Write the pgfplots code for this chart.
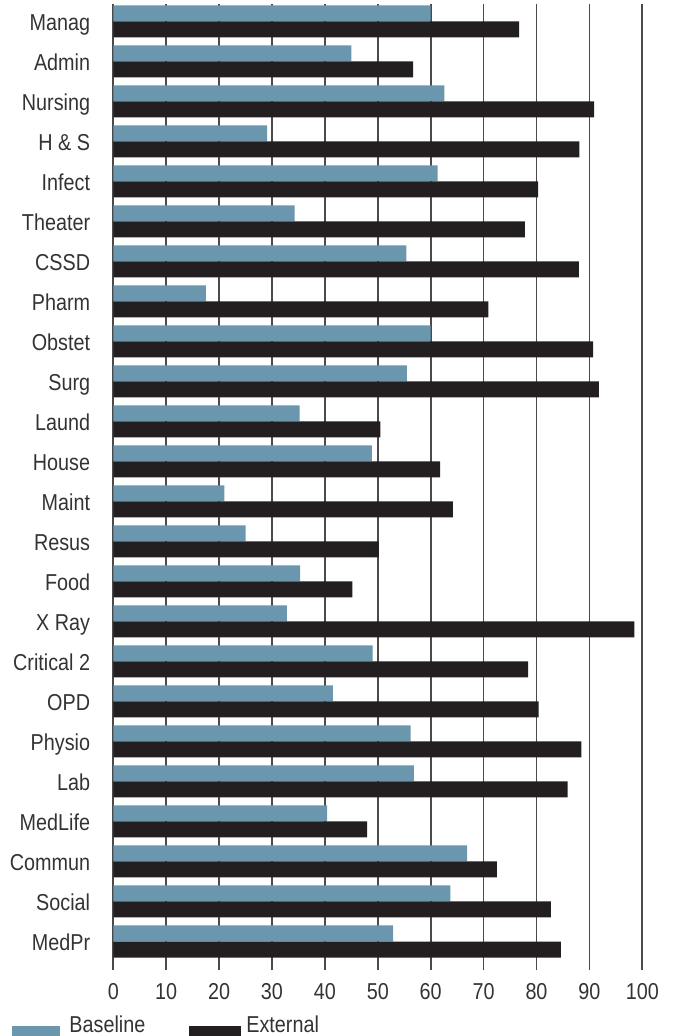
\documentclass[border=0pt]{standalone}
\usepackage{fontspec}
\setmainfont[FakeStretch=0.86]{Liberation Sans}
\usepackage{pgfplots}
\pgfplotsset{compat=1.18}
\definecolor{basec}{HTML}{6B97AE}
\definecolor{extc}{HTML}{231F20}
\definecolor{gridc}{HTML}{4A4A4A}
\definecolor{txtc}{HTML}{333333}
\begin{document}
\begin{tikzpicture}
\begin{axis}[
 at={(0pt,0pt)}, anchor=south west,
 scale only axis, width=529pt, height=966pt,
 xmin=0, xmax=100, ymin=-0.7125, ymax=23.4375,
 xbar, bar width=16pt,
 xtick={0,10,...,100},
 ytick={0,...,23},
 yticklabels={MedPr,Social,Commun,MedLife,Lab,Physio,OPD,Critical 2,X Ray,Food,Resus,Maint,House,Laund,Surg,Obstet,Pharm,CSSD,Theater,Infect,H \& S,Nursing,Admin,Manag},
 axis line style={draw=none},
 tick style={draw=none},
 major tick length=0pt,
 xmajorgrids, major grid style={gridc, line width=1.7pt},
 extra x ticks={0}, extra x tick labels={}, extra x tick style={grid style={black,line width=2pt}},
 font=\fontsize{23}{27}\selectfont,
 tick label style={text=txtc, font=\fontsize{23}{27}\selectfont},
 xticklabel style={anchor=north, inner sep=0pt, text height=16.5pt, text depth=0pt, yshift=-12.7pt},
 yticklabel style={anchor=east, inner sep=0pt, text height=17.8pt, text depth=0pt, xshift=-23pt},
 /pgf/number format/assume math mode=true,
 legend columns=2,
 legend style={draw=none, fill=none, at={(axis description cs:-0.1966,-0.057)}, anchor=west, text=txtc,
   font=\fontsize{23}{27}\selectfont,
   /tikz/every even column/.append style={column sep=42pt}},
]
\addplot[fill=basec, draw=none, bar shift=8pt, legend image code/.code={\path[fill=none,draw=none] (0pt,-17pt) rectangle (55pt,17pt);\fill[basec] (0pt,-17pt) rectangle (48pt,-1pt);}] coordinates {
(52.9,0) (63.7,1) (66.9,2) (40.4,3) (56.8,4) (56.2,5) (41.5,6) (49.0,7) (32.8,8) (35.3,9) (25.0,10) (21.0,11)
(48.9,12) (35.2,13) (55.5,14) (60.0,15) (17.5,16) (55.4,17) (34.3,18) (61.3,19) (29.1,20) (62.6,21) (45.0,22) (60.0,23)};
\addplot[fill=extc, draw=none, bar shift=-8pt, legend image code/.code={\path[fill=none,draw=none] (0pt,-17pt) rectangle (55pt,17pt);\fill[extc] (0pt,-17pt) rectangle (52pt,-1pt);}] coordinates {
(84.6,0) (82.7,1) (72.5,2) (48.0,3) (85.9,4) (88.5,5) (80.4,6) (78.4,7) (98.5,8) (45.2,9) (50.2,10) (64.2,11)
(61.8,12) (50.5,13) (91.8,14) (90.7,15) (70.9,16) (88.0,17) (77.8,18) (80.3,19) (88.1,20) (90.9,21) (56.7,22) (76.7,23)};
\legend{Baseline, External}
\end{axis}
\pgfresetboundingbox
\path[use as bounding box] (-113.3pt,-66pt) rectangle (559.7pt,970pt);
\end{tikzpicture}
\end{document}
